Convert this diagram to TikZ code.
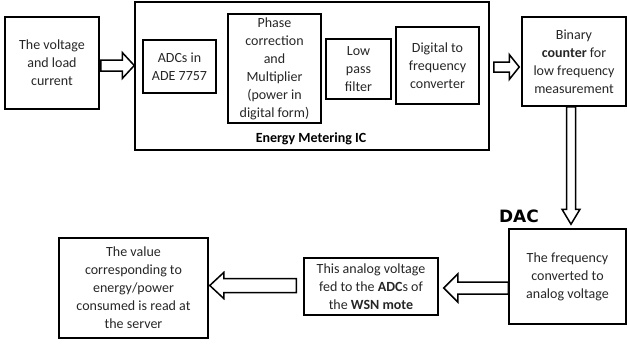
\documentclass[tikz,border=0pt]{standalone}
\usepackage{fontspec}
\setmainfont{Carlito}
\newfontfamily\heavyfont{DejaVu Sans}
\usetikzlibrary{calc}

% horizontal block arrow: start, tip, shaft half-width, head half-width, signed head length
\newcommand\hblock[5]{%
  \draw[blk] let \p1=(#1), \p2=(#2) in
    (\x1,{\y1-#3}) -- ({\x2-(#5)},{\y1-#3}) -- ({\x2-(#5)},{\y1-#4}) -- (\x2,\y1)
    -- ({\x2-(#5)},{\y1+#4}) -- ({\x2-(#5)},{\y1+#3}) -- (\x1,{\y1+#3}) -- cycle;}
% vertical block arrow (pointing down the page)
\newcommand\vblock[5]{%
  \draw[blk] let \p1=(#1), \p2=(#2) in
    ({\x1-#3},\y1) -- ({\x1-#3},{\y2+(#5)}) -- ({\x1-#4},{\y2+(#5)}) -- (\x1,\y2)
    -- ({\x1+#4},{\y2+(#5)}) -- ({\x1+#3},{\y2+(#5)}) -- ({\x1+#3},\y1) -- cycle;}

\begin{document}
\begin{tikzpicture}[x=1pt,y=-1pt,
  box/.style={draw, line width=1.5pt, align=center, inner sep=0pt,
    text=black!85, font=\fontsize{14}{18}\selectfont},
  blk/.style={draw, line width=1.5pt, fill=white, line join=miter}]
\useasboundingbox (0,0) rectangle (627,343);

% top row
\node[box, minimum width=94, minimum height=92] (src) at (52,63)
  {The voltage\\and load\\current};
\node[box, minimum width=354, minimum height=148] (ic) at (312,76) {};
\node[box, line width=1.2pt, minimum width=73, minimum height=53] (adc) at (179.5,66.5)
  {ADCs in\\ADE 7757};
\node[box, line width=1.2pt, minimum width=93, minimum height=109] (phase) at (274.5,68.5)
  {Phase\\correction\\and\\Multiplier\\(power in\\digital form)};
\node[box, line width=1.2pt, minimum width=65, minimum height=60] (lpf) at (358.5,69)
  {Low\\pass\\filter};
\node[box, line width=1.2pt, minimum width=83, minimum height=77] (dfc) at (437.5,65.5)
  {Digital to\\frequency\\converter};
\node[font=\fontsize{14}{18}\selectfont\bfseries] (iclabel) at (311,139)
  {Energy Metering IC};
\node[box, minimum width=104, minimum height=89] (cnt) at (574,61.5)
  {Binary\\\textbf{counter} for\\low frequency\\measurement};

% bottom row
\node[box, minimum width=117, minimum height=95] (fa) at (567.5,276.5)
  {The frequency\\converted to\\analog voltage};
\node[font=\heavyfont\fontsize{17}{18}\selectfont\bfseries] (dac) at (519,216) {DAC};
\node[box, minimum width=134, minimum height=57] (av) at (371,286.5)
  {This analog voltage\\fed to the \textbf{ADC}s of\\the \textbf{WSN mote}};
\node[box, minimum width=149, minimum height=100] (srv) at (133.5,288)
  {The value\\corresponding to\\energy/power\\consumed is read at\\the server};

% arrow end points
\coordinate (a1s) at ($(src.east)+(1,2.5)$);
\coordinate (a1t) at (ic.west);
\coordinate (a2s) at ($(ic.east)+(4,-9)$);
\coordinate (a2t) at ($(cnt.west)+(-2,0)$);
\coordinate (a3s) at ($(cnt.south)+(-3,0)$);
\coordinate (a3t) at ($(fa.north)+(0,-4)$);
\coordinate (a4s) at ($(fa.west)+(0,11.5)$);
\coordinate (a4t) at ($(av.east)+(5,0)$);
\coordinate (a5s) at ($(av.west)+(-7,-1)$);
\coordinate (a5t) at ($(srv.east)+(1,0)$);

% block arrows
\hblock{a1s}{a1t}{5.5pt}{13pt}{12pt}
\hblock{a2s}{a2t}{5pt}{12.5pt}{10pt}
\vblock{a3s}{a3t}{4.5pt}{9pt}{15pt}
\hblock{a4s}{a4t}{6pt}{14pt}{-14pt}
\hblock{a5s}{a5t}{7pt}{13pt}{-14pt}
\end{tikzpicture}
\end{document}
